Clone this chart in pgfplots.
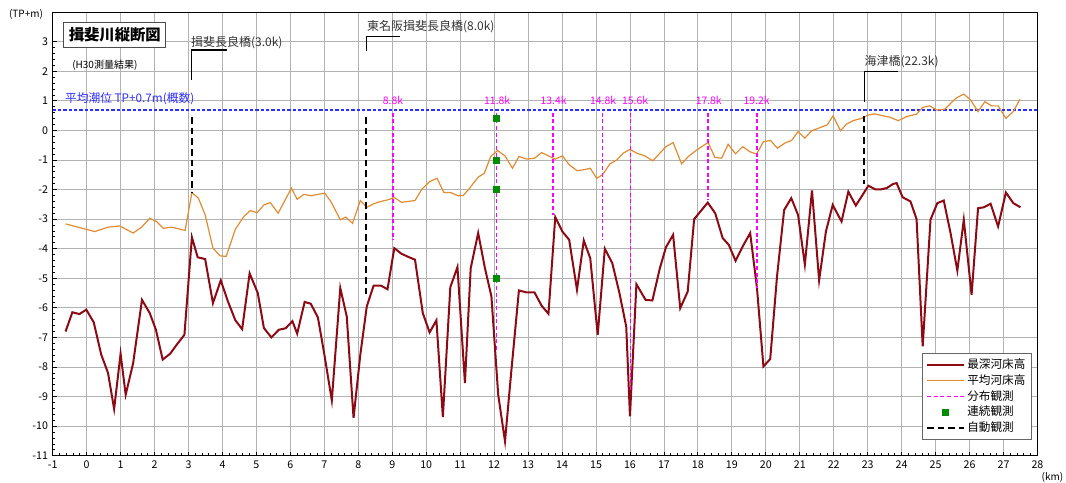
\documentclass[border=0pt]{standalone}
\usepackage{fontspec}
\setmainfont{Noto Sans CJK JP}
\usepackage{pgfplots}
\pgfplotsset{compat=1.18}
\definecolor{deepred}{RGB}{140,10,20}
\definecolor{meanorange}{RGB}{225,140,50}
\definecolor{tideblue}{RGB}{45,45,255}
\definecolor{distmag}{RGB}{255,0,255}
\definecolor{contgreen}{RGB}{0,140,0}
\begin{document}
\begin{tikzpicture}
\useasboundingbox (-39.5pt,-19.7pt) rectangle (760pt,341.8pt);
\begin{axis}[
  at={(0,0)}, anchor=south west,
  scale only axis, width=738.6pt, height=332.7pt,
  xmin=-1, xmax=28, ymin=-11, ymax=4,
  xtick={-1,0,...,28}, ytick={-11,-10,...,3},
  minor x tick num=4, minor y tick num=4,
  xtick pos=bottom, ytick pos=left,
  tick align=inside, major tick length=3pt, minor tick length=1.8pt,
  grid=major, major grid style={color=black!30, line width=0.6pt},
  axis line style={black, line width=0.9pt},
  every tick/.style={black, line width=0.6pt},
  tick label style={font=\fontsize{8}{9}\selectfont},
  /pgf/number format/assume math mode=true,
  clip=false,
  legend cell align=left,
  legend style={at={(0.9941,0.0354)}, anchor=south east, draw=black!60, fill=white,
    font=\fontsize{8.7}{10}\selectfont, inner sep=3pt, row sep=0pt,
    nodes={inner sep=1.5pt}},
  legend image code/.code={\draw[mark repeat=2,mark phase=2,#1] plot coordinates {(0pt,0pt) (14pt,0pt) (28pt,0pt)};},
]
% mean tide level
\addplot[tideblue, line width=1.2pt, dash pattern=on 2.5pt off 1.5pt, forget plot] coordinates {(-1,0.7) (28,0.7)};
% deepest bed
\addplot[deepred, line width=1.5pt] coordinates {
(-0.62,-6.80) (-0.42,-6.15) (-0.21,-6.21) (-0.01,-6.06) (0.21,-6.49) (0.43,-7.58) (0.63,-8.20) (0.81,-9.42)
(1.00,-7.55) (1.15,-8.94) (1.37,-7.87) (1.63,-5.73) (1.86,-6.18) (2.04,-6.74) (2.24,-7.75) (2.46,-7.55)
(2.65,-7.25) (2.88,-6.91) (3.10,-3.61) (3.27,-4.29) (3.49,-4.35) (3.72,-5.84) (3.95,-5.07) (4.16,-5.78)
(4.38,-6.42) (4.58,-6.72) (4.80,-4.83) (5.04,-5.50) (5.22,-6.68) (5.44,-7.00) (5.66,-6.74) (5.86,-6.69)
(6.06,-6.45) (6.20,-6.87) (6.42,-5.80) (6.60,-5.86) (6.81,-6.32) (7.01,-7.64) (7.22,-9.13) (7.47,-5.33)
(7.66,-6.29) (7.86,-9.72) (8.06,-7.58) (8.25,-5.95) (8.45,-5.25) (8.67,-5.25) (8.86,-5.37) (9.06,-3.98)
(9.27,-4.17) (9.48,-4.28) (9.67,-4.37) (9.90,-6.18) (10.10,-6.83) (10.30,-6.42) (10.49,-9.69) (10.71,-5.30)
(10.92,-4.62) (11.14,-8.54) (11.31,-4.66) (11.53,-3.47) (11.73,-4.66) (11.92,-5.61) (12.12,-8.94) (12.32,-10.51)
(12.51,-8.09) (12.73,-5.41) (12.96,-5.48) (13.19,-5.48) (13.40,-5.93) (13.60,-6.20) (13.80,-2.93) (14.01,-3.42)
(14.21,-3.70) (14.44,-5.39) (14.64,-3.72) (14.83,-4.32) (15.05,-6.91) (15.26,-4.00) (15.48,-4.49) (15.69,-5.50)
(15.89,-6.63) (16.00,-9.67) (16.19,-5.20) (16.46,-5.73) (16.66,-5.75) (16.88,-4.66) (17.06,-3.95) (17.27,-3.53)
(17.48,-6.01) (17.70,-5.45) (17.89,-3.00) (18.09,-2.72) (18.29,-2.44) (18.51,-2.80) (18.73,-3.64) (18.91,-3.87)
(19.11,-4.41) (19.32,-3.92) (19.54,-3.47) (19.74,-5.33) (19.93,-7.98) (20.13,-7.73) (20.33,-4.94) (20.54,-2.69)
(20.75,-2.29) (20.95,-2.86) (21.15,-4.54) (21.36,-2.03) (21.57,-5.07) (21.77,-3.42) (21.97,-2.52) (22.23,-3.08)
(22.43,-2.07) (22.65,-2.54) (22.84,-2.20) (23.02,-1.87) (23.22,-1.99) (23.40,-1.99) (23.56,-1.95) (23.75,-1.81)
(23.85,-1.78) (24.03,-2.26) (24.26,-2.40) (24.44,-3.00) (24.62,-7.30) (24.85,-3.02) (25.05,-2.46) (25.24,-2.37)
(25.44,-3.47) (25.64,-4.74) (25.83,-3.02) (26.06,-5.56) (26.25,-2.63) (26.42,-2.60) (26.62,-2.48) (26.84,-3.25)
(27.07,-2.10) (27.29,-2.46) (27.50,-2.60)
};
% mean bed
\addplot[meanorange, line width=0.9pt] coordinates {
(-0.62,-3.16) (0.24,-3.42) (0.63,-3.27) (0.98,-3.23) (1.37,-3.47) (1.62,-3.27) (1.86,-2.97) (2.06,-3.08)
(2.26,-3.31) (2.50,-3.27) (2.90,-3.38) (3.10,-2.10) (3.29,-2.29) (3.49,-2.85) (3.72,-3.98) (3.93,-4.24)
(4.11,-4.26) (4.38,-3.34) (4.63,-2.91) (4.82,-2.71) (5.02,-2.78) (5.22,-2.52) (5.41,-2.44) (5.64,-2.80)
(6.03,-1.95) (6.20,-2.33) (6.40,-2.16) (6.60,-2.21) (7.01,-2.12) (7.19,-2.40) (7.47,-3.02) (7.63,-2.93)
(7.83,-3.14) (8.06,-2.37) (8.25,-2.60) (8.45,-2.48) (8.67,-2.40) (8.86,-2.35) (9.06,-2.27) (9.27,-2.43)
(9.48,-2.40) (9.67,-2.37) (9.87,-1.99) (10.10,-1.73) (10.32,-1.62) (10.52,-2.10) (10.72,-2.10) (10.94,-2.21)
(11.09,-2.20) (11.28,-1.95) (11.53,-1.58) (11.71,-1.45) (11.90,-0.88) (12.10,-0.68) (12.32,-0.86) (12.54,-1.28)
(12.73,-0.88) (12.96,-0.97) (13.19,-0.94) (13.40,-0.75) (13.60,-0.86) (13.80,-0.97) (14.01,-0.86) (14.21,-1.16)
(14.44,-1.36) (14.64,-1.33) (14.83,-1.28) (15.02,-1.62) (15.19,-1.50) (15.41,-1.13) (15.61,-1.00) (15.80,-0.77)
(16.00,-0.64) (16.20,-0.77) (16.44,-0.86) (16.67,-1.03) (16.88,-0.77) (17.06,-0.55) (17.27,-0.41) (17.52,-1.13)
(17.72,-0.88) (17.91,-0.71) (18.11,-0.55) (18.30,-0.41) (18.50,-0.91) (18.70,-0.94) (18.89,-0.47) (19.11,-0.79)
(19.32,-0.55) (19.53,-0.72) (19.73,-0.80) (19.93,-0.38) (20.14,-0.34) (20.34,-0.60) (20.56,-0.43) (20.76,-0.34)
(20.95,-0.04) (21.15,-0.26) (21.35,-0.01) (21.54,0.07) (21.81,0.19) (21.98,0.49) (22.20,-0.01) (22.38,0.22)
(22.57,0.33) (22.82,0.41) (23.02,0.52) (23.21,0.56) (23.46,0.49) (23.65,0.45) (23.90,0.33) (24.15,0.47)
(24.44,0.55) (24.62,0.78) (24.83,0.83) (25.03,0.69) (25.27,0.72) (25.60,1.09) (25.83,1.23) (26.03,1.03)
(26.25,0.64) (26.45,0.97) (26.65,0.83) (26.84,0.83) (27.07,0.41) (27.29,0.64) (27.48,1.05)
};
% distributed observation
\addplot[distmag, line width=1.2pt, dash pattern=on 3pt off 2pt] coordinates {(9.03,0.6) (9.03,-3.70)};
\addplot[distmag, line width=1.2pt, dash pattern=on 3pt off 2pt, forget plot] coordinates {(12.07,0.6) (12.07,-7.42)};
\addplot[distmag, line width=1.2pt, dash pattern=on 3pt off 2pt, forget plot] coordinates {(13.74,0.6) (13.74,-2.85)};
\addplot[distmag, line width=1.2pt, dash pattern=on 3pt off 2pt, forget plot] coordinates {(15.19,0.6) (15.19,-3.70)};
\addplot[distmag, line width=1.2pt, dash pattern=on 3pt off 2pt, forget plot] coordinates {(16.01,0.6) (16.01,-8.77)};
\addplot[distmag, line width=1.2pt, dash pattern=on 3pt off 2pt, forget plot] coordinates {(18.30,0.6) (18.30,-2.35)};
\addplot[distmag, line width=1.2pt, dash pattern=on 3pt off 2pt, forget plot] coordinates {(19.74,0.6) (19.74,-5.32)};
% continuous observation
\addplot[only marks, mark=square*, mark size=2.2pt, color=contgreen] coordinates {(12.07,0.4) (12.07,-1) (12.07,-2) (12.07,-5)};
% automatic observation
\addplot[black, line width=1.6pt, dash pattern=on 5pt off 3pt] coordinates {(3.10,0.45) (3.10,-2.10)};
\addplot[black, line width=1.6pt, dash pattern=on 5pt off 3pt, forget plot] coordinates {(8.23,0.45) (8.23,-5.60)};
\addplot[black, line width=1.6pt, dash pattern=on 5pt off 3pt, forget plot] coordinates {(22.90,0.50) (22.90,-1.80)};
% bridge brackets
\addplot[black, line width=0.8pt, forget plot] coordinates {(3.10,1.70) (3.10,2.72) (4.12,2.72)};
\addplot[black, line width=0.8pt, forget plot] coordinates {(8.23,2.70) (8.23,3.19) (9.23,3.19)};
\addplot[black, line width=0.8pt, forget plot] coordinates {(22.90,0.97) (22.90,1.99) (23.90,1.99)};
\legend{最深河床高, 平均河床高, 分布観測, 連続観測, 自動観測}
% texts
\node[draw=black!70, line width=0.8pt, fill=white, minimum width=76.5pt, minimum height=18.7pt, inner sep=1pt,
  font=\fontsize{11.5}{12}\selectfont\bfseries] at (axis cs:0.83,3.24) {揖斐川縦断図};
\node[anchor=west, inner sep=0pt, font=\fontsize{7.5}{9}\selectfont] at (axis cs:-0.43,2.21) {(H30測量結果)};
\node[anchor=west, inner sep=0pt, text=tideblue, font=\fontsize{8.8}{10}\selectfont] at (axis cs:-0.64,1.06) {平均潮位 TP+0.7m(概数)};
\node[anchor=west, inner sep=0pt, text=black!80, font=\fontsize{9}{10}\selectfont] at (axis cs:3.07,2.97) {揖斐長良橋(3.0k)};
\node[anchor=west, inner sep=0pt, text=black!80, font=\fontsize{9}{10}\selectfont] at (axis cs:8.25,3.50) {東名阪揖斐長良橋(8.0k)};
\node[anchor=west, inner sep=0pt, text=black!80, font=\fontsize{9}{10}\selectfont] at (axis cs:22.90,2.32) {海津橋(22.3k)};
\begin{scope}[every node/.style={inner sep=0pt, text=distmag, font=\fontsize{7.8}{9}\selectfont}]
\node at (axis cs:9.02,1.03) {8.8k};
\node at (axis cs:12.09,1.03) {11.8k};
\node at (axis cs:13.75,1.03) {13.4k};
\node at (axis cs:15.21,1.03) {14.8k};
\node at (axis cs:16.15,1.03) {15.6k};
\node at (axis cs:18.32,1.03) {17.8k};
\node at (axis cs:19.73,1.03) {19.2k};
\end{scope}
\node[inner sep=0pt, font=\fontsize{7.5}{9}\selectfont] at ([xshift=-20pt,yshift=-1.5pt]axis cs:-1,4) {(TP+m)};
\node[anchor=east, inner sep=0pt, font=\fontsize{7.5}{9}\selectfont] at ([xshift=19.5pt,yshift=-16.5pt]axis cs:28,-11) {(km)};
\end{axis}
\end{tikzpicture}
\end{document}
